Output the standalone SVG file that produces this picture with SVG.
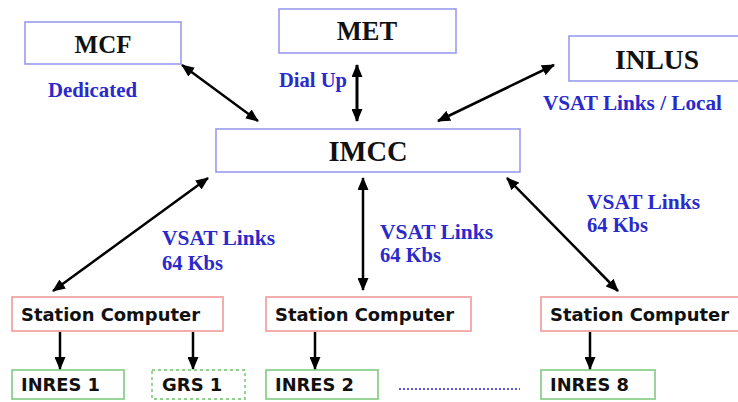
<svg xmlns="http://www.w3.org/2000/svg" width="738" height="402" viewBox="0 0 738 402">
<style>
.bg{fill:#ffffff}
.blue{fill:#ffffff;stroke:#9a9af0;stroke-width:1.6}
.red{fill:#ffffff;stroke:#f4a4a4;stroke-width:1.8}
.green{fill:#ffffff;stroke:#8fd08f;stroke-width:1.8}
.greend{fill:#ffffff;stroke:#8fd08f;stroke-width:1.8;stroke-dasharray:3 3}
.big{font-family:"Liberation Serif","Times New Roman",serif;font-weight:bold;fill:#111111;text-anchor:middle}
.lbl{font-family:"Liberation Serif","Times New Roman",serif;font-weight:bold;font-size:20.5px;fill:#2a2acc}
.sc{font-family:"DejaVu Sans",Verdana,sans-serif;font-weight:bold;font-size:18px;fill:#111111}
.conn{stroke:#000000;stroke-width:2.5;fill:none}
.thick{stroke-width:3}
.dots{stroke:#5a5ae0;stroke-width:2.2;stroke-dasharray:2 2;fill:none}
</style>
<defs>
<marker id="ah" viewBox="0 0 13 11" refX="12" refY="5.5" markerWidth="13" markerHeight="11" markerUnits="userSpaceOnUse" orient="auto-start-reverse">
<path d="M0,0 L13,5.5 L0,11 z" fill="#000000"/>
</marker>
</defs>
<rect class="bg" x="0" y="0" width="738" height="402"/>

<g id="MCF">
<rect class="blue" x="25" y="22" width="156" height="42"/>
<text class="big" x="103" y="53" font-size="25">MCF</text>
</g>
<g id="MET">
<rect class="blue" x="279" y="9" width="177" height="44"/>
<text class="big" x="367" y="40" font-size="26.5">MET</text>
</g>
<g id="INLUS">
<rect class="blue" x="569" y="36" width="175" height="45"/>
<text class="big" x="657" y="69" font-size="27.5">INLUS</text>
</g>
<g id="IMCC">
<rect class="blue" x="216" y="129" width="304" height="43"/>
<text class="big" x="368" y="161" font-size="28.5">IMCC</text>
</g>

<g id="labels">
<text class="lbl" x="48" y="97" textLength="89" lengthAdjust="spacingAndGlyphs">Dedicated</text>
<text class="lbl" x="279" y="87" textLength="68" lengthAdjust="spacingAndGlyphs">Dial Up</text>
<text class="lbl" x="543" y="110" textLength="179" lengthAdjust="spacingAndGlyphs">VSAT Links / Local</text>
<text class="lbl" x="162" y="245" textLength="113" lengthAdjust="spacingAndGlyphs">VSAT Links</text>
<text class="lbl" x="162" y="270">64 Kbs</text>
<text class="lbl" x="380" y="239" textLength="113" lengthAdjust="spacingAndGlyphs">VSAT Links</text>
<text class="lbl" x="380" y="262">64 Kbs</text>
<text class="lbl" x="587" y="209" textLength="113" lengthAdjust="spacingAndGlyphs">VSAT Links</text>
<text class="lbl" x="587" y="232">64 Kbs</text>
</g>

<g id="SC1">
<rect class="red" x="12" y="297" width="211" height="34"/>
<text class="sc" x="21" y="321" textLength="179" lengthAdjust="spacingAndGlyphs">Station Computer</text>
</g>
<g id="SC2">
<rect class="red" x="266" y="297" width="205" height="34"/>
<text class="sc" x="275" y="321" textLength="179" lengthAdjust="spacingAndGlyphs">Station Computer</text>
</g>
<g id="SC8">
<rect class="red" x="541" y="297" width="205" height="34"/>
<text class="sc" x="550" y="321" textLength="179" lengthAdjust="spacingAndGlyphs">Station Computer</text>
</g>

<g id="INRES1">
<rect class="green" x="12" y="370" width="112" height="29"/>
<text class="sc" x="21" y="391" textLength="79" lengthAdjust="spacingAndGlyphs">INRES 1</text>
</g>
<g id="GRS1">
<rect class="greend" x="152" y="370" width="93" height="29"/>
<text class="sc" x="162" y="391">GRS 1</text>
</g>
<g id="INRES2">
<rect class="green" x="266" y="370" width="112" height="29"/>
<text class="sc" x="275" y="391" textLength="79" lengthAdjust="spacingAndGlyphs">INRES 2</text>
</g>
<g id="INRES8">
<rect class="green" x="541" y="370" width="114" height="29"/>
<text class="sc" x="550" y="391" textLength="79" lengthAdjust="spacingAndGlyphs">INRES 8</text>
</g>

<g id="connectors">
<line class="conn" x1="182" y1="65" x2="258" y2="121" marker-start="url(#ah)" marker-end="url(#ah)"/>
<line class="conn thick" x1="357" y1="65" x2="357" y2="121" marker-start="url(#ah)" marker-end="url(#ah)"/>
<line class="conn" x1="554" y1="65" x2="438" y2="121" marker-start="url(#ah)" marker-end="url(#ah)"/>
<line class="conn" x1="208" y1="178" x2="53" y2="291" marker-start="url(#ah)" marker-end="url(#ah)"/>
<line class="conn" x1="363" y1="178" x2="363" y2="290" marker-start="url(#ah)" marker-end="url(#ah)"/>
<line class="conn" x1="507" y1="178" x2="618" y2="291" marker-start="url(#ah)" marker-end="url(#ah)"/>
<line class="conn" x1="60" y1="332" x2="60" y2="369" marker-end="url(#ah)"/>
<line class="conn" x1="193" y1="332" x2="193" y2="369" marker-end="url(#ah)"/>
<line class="conn" x1="315" y1="332" x2="315" y2="369" marker-end="url(#ah)"/>
<line class="conn" x1="590" y1="332" x2="590" y2="369" marker-end="url(#ah)"/>
<line class="dots" x1="399" y1="389" x2="520" y2="389"/>
</g>
</svg>
